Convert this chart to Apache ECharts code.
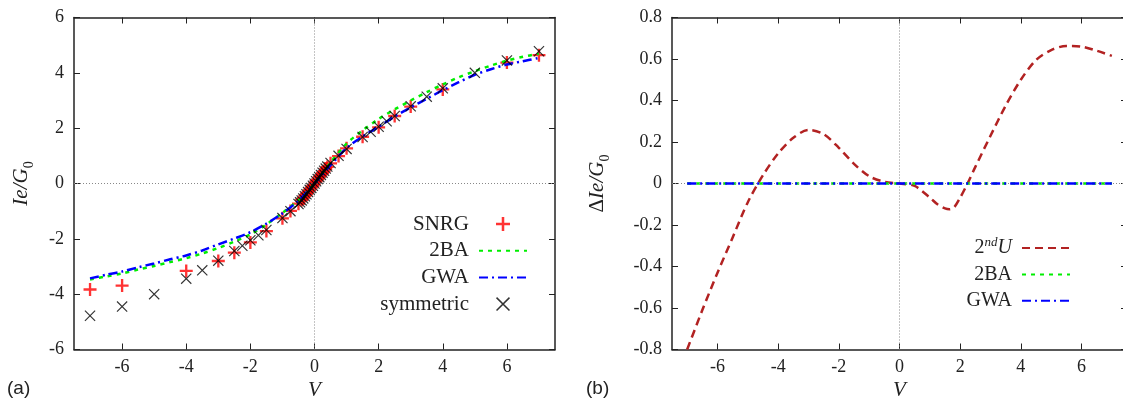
<!DOCTYPE html>
<html><head><meta charset="utf-8">
<script src="https://cdn.jsdelivr.net/npm/echarts@6/dist/echarts.min.js"></script>
<style>html,body{margin:0;padding:0;background:#fff}#c{width:1123px;height:401px}</style>
</head><body><div id="c"></div>
<script>
// ---------- data ----------
const xTicks = [-6, -4, -2, 0, 2, 4, 6];

// panel (a): SNRG points
const V_SNRG = [-7, -6, -4, -3, -2.5, -2, -1.5, -1, -0.75, -0.5, -0.4, -0.35, -0.3, -0.25, -0.2, -0.15, -0.1, -0.05, 0,
  0.05, 0.1, 0.15, 0.2, 0.25, 0.3, 0.35, 0.4, 0.5, 0.75, 1, 1.5, 2, 2.5, 3, 4, 6, 7];
const I_SNRG = [-3.83, -3.69, -3.16, -2.80, -2.50, -2.13, -1.72, -1.26, -0.99, -0.73, -0.60, -0.53, -0.45, -0.38, -0.30, -0.23, -0.15, -0.08, 0,
  0.08, 0.15, 0.23, 0.30, 0.38, 0.45, 0.53, 0.60, 0.73, 0.99, 1.27, 1.69, 2.03, 2.44, 2.78, 3.40, 4.37, 4.64];

// panel (a): symmetric points
const V_SYM = [-7, -6, -5, -4, -3.5, -3, -2.5, -2.25, -2, -1.75, -1.5, -1, -0.75, -0.5, -0.45, -0.4, -0.35, -0.3, -0.25, -0.2, -0.15, -0.1, -0.05, 0,
  0.05, 0.1, 0.15, 0.2, 0.25, 0.3, 0.35, 0.4, 0.5, 0.75, 1, 1.5, 1.75, 2, 2.25, 2.5, 3, 3.5, 4, 5, 6, 7];
const I_SYM = [-4.78, -4.45, -4.00, -3.44, -3.14, -2.79, -2.44, -2.25, -2.05, -1.87, -1.68, -1.25, -1.00, -0.74, -0.68, -0.61, -0.54, -0.46, -0.39, -0.31, -0.23, -0.16, -0.08, 0,
  0.08, 0.16, 0.23, 0.31, 0.39, 0.46, 0.54, 0.61, 0.74, 1.00, 1.25, 1.68, 1.87, 2.05, 2.25, 2.44, 2.79, 3.14, 3.44, 4.00, 4.45, 4.78];

// panel (a): 2BA and GWA curves
const V_LINE = [-7, -6.5, -6, -5.5, -5, -4.5, -4, -3.5, -3, -2.5, -2, -1.5, -1, -0.5, 0, 0.5, 1, 1.5, 2, 2.5, 3, 3.5, 4, 4.5, 5, 5.5, 6, 6.5, 7];
const I_2BA = [-3.47, -3.36, -3.25, -3.11, -2.98, -2.84, -2.70, -2.53, -2.33, -2.10, -1.84, -1.48, -1.06, -0.60, 0, 0.76, 1.44, 1.92, 2.33, 2.68, 3.00, 3.30, 3.58, 3.84, 4.06, 4.26, 4.44, 4.58, 4.69];
const I_GWA = [-3.43, -3.30, -3.18, -3.03, -2.89, -2.74, -2.60, -2.42, -2.20, -1.99, -1.76, -1.45, -1.08, -0.62, 0, 0.66, 1.28, 1.70, 2.05, 2.42, 2.75, 3.06, 3.37, 3.66, 3.93, 4.13, 4.30, 4.42, 4.54];

// panel (b): differences
const V_DIFF = [-7, -6.5, -6, -5.5, -5, -4.5, -4, -3.5, -3, -2.5, -2, -1.5, -1, -0.5, 0, 0.5, 1, 1.25, 1.5, 1.65, 1.8, 2, 2.25, 2.5, 3, 3.5, 4, 4.5, 5, 5.5, 6, 6.5, 7];
const D_2NDU = [-0.80, -0.61, -0.43, -0.26, -0.09, 0.04, 0.145, 0.22, 0.258, 0.238, 0.172, 0.095, 0.035, 0.008, 0, -0.012, -0.068, -0.100, -0.120, -0.124, -0.115, -0.068, 0.002, 0.08, 0.23, 0.375, 0.50, 0.595, 0.643, 0.663, 0.66, 0.64, 0.615];
const V_FLAT = [-7, 7];
const D_2BA = [0, 0];
const D_GWA = [0, 0];

// ---------- chart ----------
const zip = (a, b) => a.map((v, i) => [v, b[i]]);
const SERIF = '"Liberation Serif", "Times New Roman", serif';
const INK = '#222';
const PLUS = 'path://M-0.18,-1L0.18,-1L0.18,-0.18L1,-0.18L1,0.18L0.18,0.18L0.18,1L-0.18,1L-0.18,0.18L-1,0.18L-1,-0.18L-0.18,-0.18Z';
const CROSS = 'path://M-1,-0.85L-0.85,-1L1,0.85L0.85,1Z M1,-0.85L-0.85,1L-1,0.85L0.85,-1Z';

const lineAxis = { show: true, onZero: false, lineStyle: { color: INK, width: 1.5 } };
const tickStyle = { color: INK, width: 1 };

function xAx(grid, pos) {
  return {
    gridIndex: grid, type: 'value', min: -7.5, max: 7.5, position: pos,
    axisLine: lineAxis,
    axisTick: { show: true, inside: true, length: 6, customValues: xTicks, lineStyle: tickStyle },
    axisLabel: pos === 'bottom'
      ? { show: true, margin: 9, customValues: xTicks, fontFamily: SERIF, fontSize: 18, color: INK }
      : { show: false },
    splitLine: { show: false },
    name: pos === 'bottom' ? 'V' : '', nameLocation: 'middle', nameGap: 30, nameMoveOverlap: false,
    nameTextStyle: { fontFamily: SERIF, fontStyle: 'italic', fontSize: 21, color: INK }
  };
}
function yAx(grid, pos, min, max, step, name, gap) {
  return {
    gridIndex: grid, type: 'value', min: min, max: max, interval: step, position: pos,
    axisLine: lineAxis,
    axisTick: { show: true, inside: true, length: 6, lineStyle: tickStyle },
    axisLabel: pos === 'left'
      ? { show: true, margin: 10, fontFamily: SERIF, fontSize: 18, color: INK }
      : { show: false },
    splitLine: { show: false },
    name: name || '', nameLocation: 'middle', nameRotate: 90, nameGap: gap || 0, nameMoveOverlap: false,
    nameTextStyle: {
      rich: {
        d: { fontFamily: SERIF, fontSize: 21, lineHeight: 30, color: INK },
        i: { fontFamily: SERIF, fontStyle: 'italic', fontSize: 21, lineHeight: 30, color: INK },
        s: { fontFamily: SERIF, fontSize: 14, lineHeight: 14, verticalAlign: 'bottom', color: INK }
      }
    }
  };
}
function zeroLines(grid) {
  return {
    type: 'line', xAxisIndex: grid, yAxisIndex: grid, data: [], silent: true, z: 1,
    markLine: {
      silent: true, symbol: ['none', 'none'], label: { show: false },
      lineStyle: { type: [1, 2], color: '#888', width: 1 },
      emphasis: { disabled: true },
      data: [{ xAxis: 0 }, { yAxis: 0 }]
    }
  };
}
const hideSym = { opacity: 0 };

const option = {
  animation: false,
  backgroundColor: '#fff',
  textStyle: { fontFamily: SERIF },
  grid: [
    { left: 74, top: 17.5, width: 481, height: 332, outerBoundsMode: 'none', containLabel: false },
    { left: 672, top: 17.5, width: 455, height: 332, outerBoundsMode: 'none', containLabel: false }
  ],
  xAxis: [xAx(0, 'bottom'), xAx(1, 'bottom'), xAx(0, 'top'), xAx(1, 'top')],
  yAxis: [
    yAx(0, 'left', -6, 6, 2, '{i|Ie/G}{s|0}', 38),
    yAx(1, 'left', -0.8, 0.8, 0.2, '{d|Δ}{i|Ie/G}{s|0}', 60),
    yAx(0, 'right', -6, 6, 2),
    yAx(1, 'right', -0.8, 0.8, 0.2)
  ],
  legend: [
    {
      data: ['SNRG', { name: '2BA', itemStyle: hideSym }, { name: 'GWA', itemStyle: hideSym }, 'symmetric'],
      orient: 'vertical', align: 'right',
      right: 595, top: 213.5, itemWidth: 48, itemHeight: 14, itemGap: 5.7, padding: 0, selectedMode: false,
      textStyle: { fontFamily: SERIF, fontSize: 21, color: INK, lineHeight: 21, padding: [0, 5, 0, 0] }
    },
    {
      data: [{ name: '2ndU', itemStyle: hideSym }, { name: '2BA', itemStyle: hideSym }, { name: 'GWA', itemStyle: hideSym }],
      orient: 'vertical', align: 'right',
      right: 52, top: 236, itemWidth: 48, itemHeight: 14, itemGap: 2.4, padding: 0, selectedMode: false,
      formatter: n => n === '2ndU' ? '{a|2}{b|nd}{c|U}' : n,
      textStyle: {
        fontFamily: SERIF, fontSize: 20, color: INK, lineHeight: 24, padding: [0, 5, 0, 0],
        rich: {
          a: { fontFamily: SERIF, fontSize: 20, lineHeight: 24, color: INK },
          b: { fontFamily: SERIF, fontStyle: 'italic', fontSize: 13, lineHeight: 13, verticalAlign: 'top', color: INK },
          c: { fontFamily: SERIF, fontStyle: 'italic', fontSize: 20, lineHeight: 24, color: INK }
        }
      }
    }
  ],
  graphic: [
    { type: 'text', left: 7, top: 379, style: { text: '(a)', font: '19px "Liberation Sans"', fill: INK } },
    { type: 'text', left: 586, top: 379, style: { text: '(b)', font: '19px "Liberation Sans"', fill: INK } }
  ],
  series: [
    zeroLines(0),
    zeroLines(1),
    { name: 'SNRG', type: 'scatter', xAxisIndex: 0, yAxisIndex: 0, data: zip(V_SNRG, I_SNRG),
      symbol: PLUS, symbolSize: 13, itemStyle: { color: '#ff0000' }, z: 3 },
    { name: '2BA', type: 'line', xAxisIndex: 0, yAxisIndex: 0, data: zip(V_LINE, I_2BA), symbol: 'none', smooth: 0.3,
      lineStyle: { color: '#00ee00', width: 2.5, type: [4, 5] }, itemStyle: { color: '#00ee00' }, z: 4 },
    { name: 'GWA', type: 'line', xAxisIndex: 0, yAxisIndex: 0, data: zip(V_LINE, I_GWA), symbol: 'none', smooth: 0.3,
      lineStyle: { color: '#0000ff', width: 2.5, type: [9, 4, 2, 4] }, itemStyle: { color: '#0000ff' }, z: 5 },
    { name: 'symmetric', type: 'scatter', xAxisIndex: 0, yAxisIndex: 0, data: zip(V_SYM, I_SYM),
      symbol: CROSS, symbolSize: 11, itemStyle: { color: '#000' }, z: 6 },
    { name: '2ndU', type: 'line', xAxisIndex: 1, yAxisIndex: 1, data: zip(V_DIFF, D_2NDU), symbol: 'none', smooth: 0.3,
      lineStyle: { color: '#b22222', width: 2.5, type: [8, 5] }, itemStyle: { color: '#b22222' }, z: 3 },
    { name: '2BA', type: 'line', xAxisIndex: 1, yAxisIndex: 1, data: zip(V_FLAT, D_2BA), symbol: 'none',
      lineStyle: { color: '#00ee00', width: 2.5, type: [4, 5] }, itemStyle: { color: '#00ee00' }, z: 4 },
    { name: 'GWA', type: 'line', xAxisIndex: 1, yAxisIndex: 1, data: zip(V_FLAT, D_GWA), symbol: 'none',
      lineStyle: { color: '#0000ff', width: 2.5, type: [9, 4, 2, 4] }, itemStyle: { color: '#0000ff' }, z: 5 }
  ]
};
const chart = echarts.init(document.getElementById('c'), null, { renderer: 'canvas' });
chart.setOption(option);
</script>
</body></html>
